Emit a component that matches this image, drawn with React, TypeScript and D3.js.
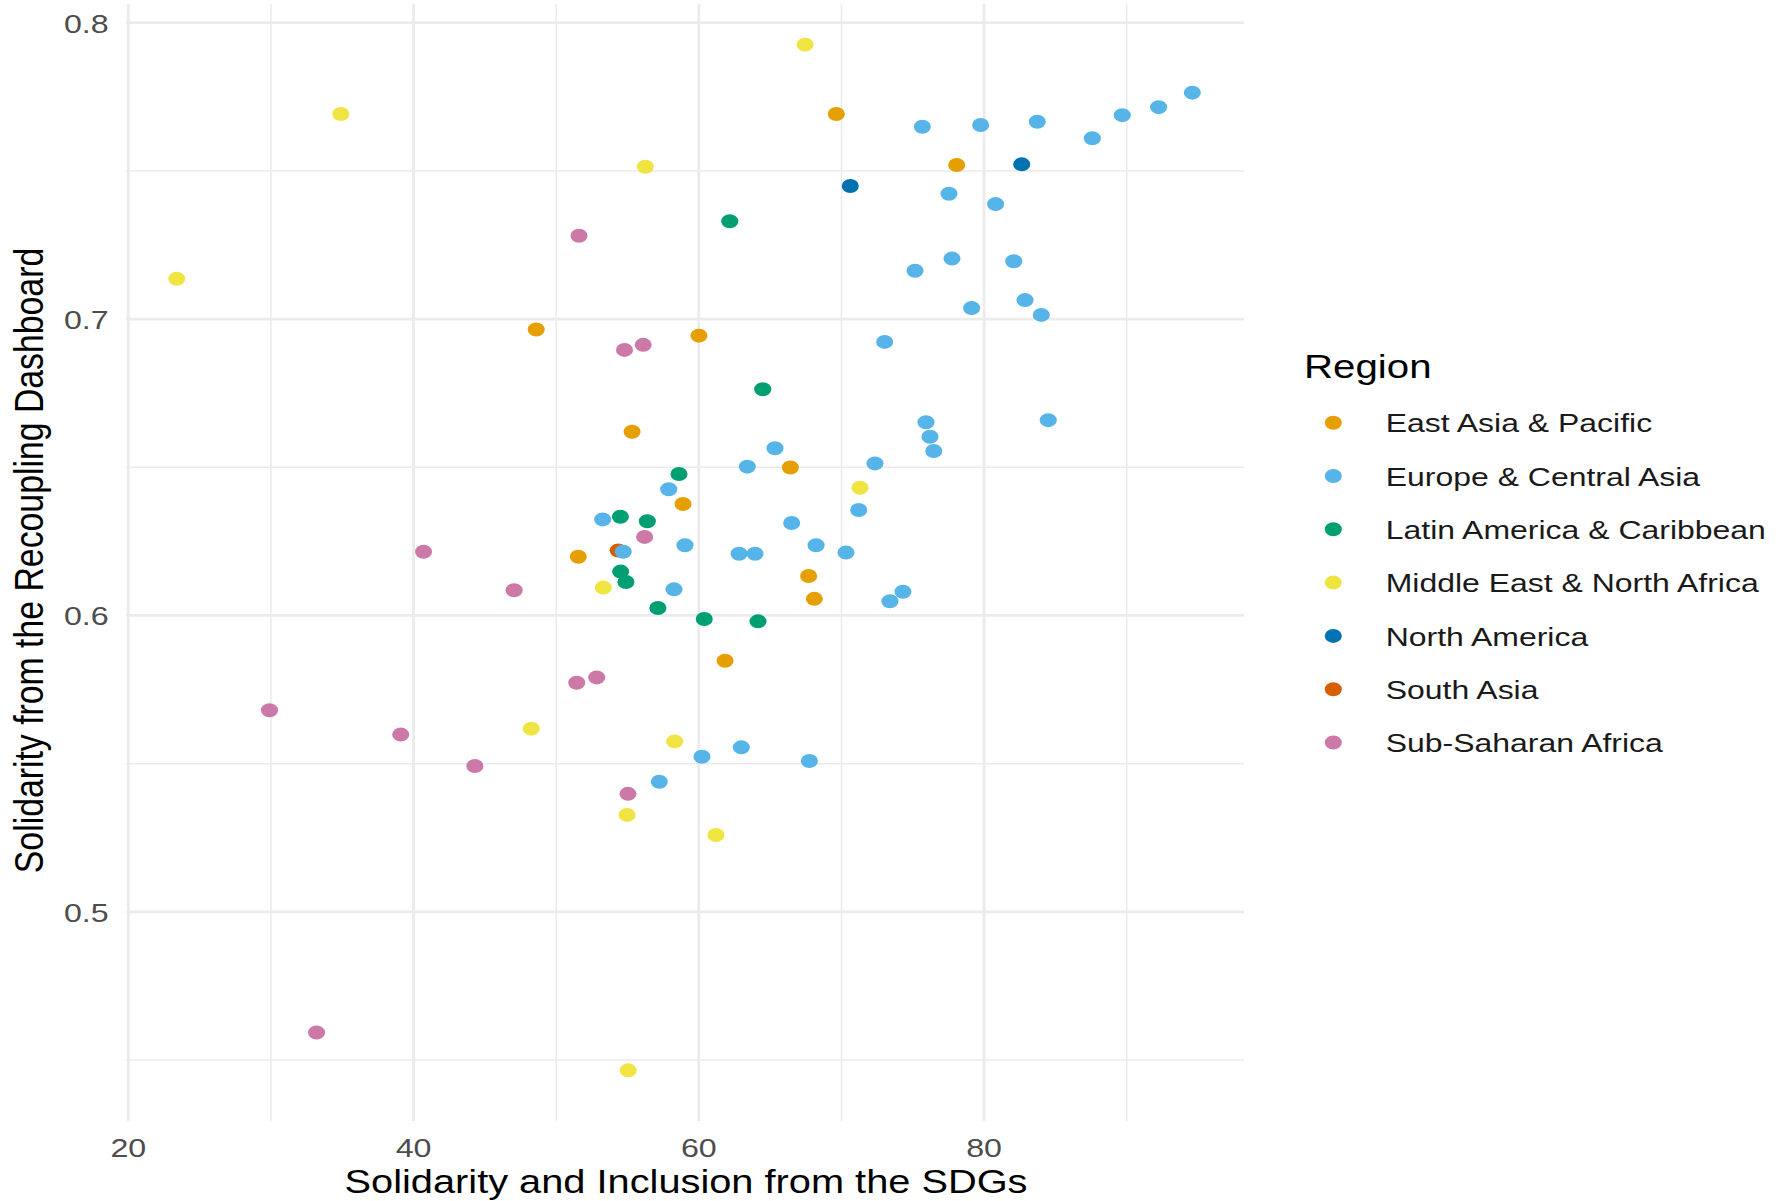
import React from "react";
import * as d3 from "d3";

// ---- Data ----
const regions = [
  "East Asia & Pacific",
  "Europe & Central Asia",
  "Latin America & Caribbean",
  "Middle East & North Africa",
  "North America",
  "South Asia",
  "Sub-Saharan Africa",
];
const regionColors = ["#E69F00", "#56B4E9", "#009E73", "#F0E442", "#0072B2", "#D55E00", "#CC79A7"];

const eastAsiaPacific: [number, number][] = [
  [69.64, 0.7692], [78.08, 0.752], [48.6, 0.6965], [60.01, 0.6944], [55.32, 0.662],
  [66.42, 0.6499], [58.89, 0.6376], [51.55, 0.6198], [67.7, 0.6133], [68.1, 0.6056], [61.84, 0.5847],
];
const europeCentralAsia: [number, number][] = [
  [75.67, 0.7649], [79.76, 0.7655], [83.73, 0.7666], [87.59, 0.761], [89.69, 0.7688],
  [92.24, 0.7715], [94.6, 0.7764], [77.54, 0.7423], [80.81, 0.7388], [77.75, 0.7204],
  [82.08, 0.7195], [75.16, 0.7163], [79.13, 0.7037], [82.87, 0.7064], [84.01, 0.7014],
  [73.03, 0.6923], [84.5, 0.6659], [75.93, 0.6652], [76.21, 0.6603], [76.47, 0.6555],
  [65.34, 0.6564], [63.4, 0.6502], [72.35, 0.6513], [57.89, 0.6426], [71.21, 0.6356],
  [53.26, 0.6324], [66.51, 0.6312], [59.03, 0.6237], [68.22, 0.6237], [54.7, 0.6215],
  [62.82, 0.6208], [63.94, 0.6208], [70.32, 0.6212], [58.26, 0.6088], [74.31, 0.608],
  [73.4, 0.6048], [60.22, 0.5523], [62.98, 0.5555], [67.75, 0.5509], [57.23, 0.5439],
];
const latinAmericaCaribbean: [number, number][] = [
  [62.17, 0.733], [64.48, 0.6763], [58.61, 0.6477], [54.5, 0.6333], [56.39, 0.6318],
  [54.52, 0.6148], [54.89, 0.6113], [57.13, 0.6025], [60.38, 0.5988], [64.15, 0.598],
];
const middleEastNorthAfrica: [number, number][] = [
  [67.45, 0.7926], [34.9, 0.7692], [23.4, 0.7136], [56.25, 0.7514], [71.3, 0.6431],
  [53.3, 0.6094], [48.25, 0.5618], [58.31, 0.5575], [54.97, 0.5327], [61.2, 0.5259], [55.05, 0.4465],
];
const northAmerica: [number, number][] = [[70.62, 0.7449], [82.64, 0.7522]];
const southAsia: [number, number][] = [[54.35, 0.6219]];
const subSaharanAfrica: [number, number][] = [
  [51.6, 0.7281], [54.79, 0.6896], [56.1, 0.6913], [56.2, 0.6265], [40.7, 0.6215],
  [47.05, 0.6085], [51.44, 0.5773], [52.84, 0.5791], [29.9, 0.568], [39.1, 0.5598],
  [44.3, 0.5492], [55.03, 0.5398], [33.2, 0.4593],
];

const seriesByRegion = [
  eastAsiaPacific, europeCentralAsia, latinAmericaCaribbean, middleEastNorthAfrica,
  northAmerica, southAsia, subSaharanAfrica,
];
// draw order (South Asia lies under a Europe point)
const drawOrder = [5, 0, 2, 3, 4, 6, 1];

const xMajorTicks = [20, 40, 60, 80];
const xMinorTicks = [30, 50, 70, 90];
const yMajorTicks = [0.5, 0.6, 0.7, 0.8];
const yMinorTicks = [0.45, 0.55, 0.65, 0.75];

const xTitle = "Solidarity and Inclusion from the SDGs";
const yTitle = "Solidarity from the Recoupling Dashboard";
const legendTitle = "Region";

// ---- Layout ----
const W = 1781;
const H = 1201;
const SX = 1.22; // horizontal stretch of the reference
const FONT = "'Liberation Sans', Arial, Helvetica, sans-serif";
const panelLeft = 126;
const panelRight = 1244;
const panelTop = 4;
const panelBottom = 1121;

const x = d3.scaleLinear().domain([20, 90]).range([128.3, 1126.7]);
const y = d3.scaleLinear().domain([0.45, 0.8]).range([1060, 22.7]);

const fmtY = d3.format(".1f");

function StretchText(props: {
  x: number; y: number; anchor?: string; size: number; fill: string; children: React.ReactNode; rotate?: number;
}) {
  const rot = props.rotate ? ` rotate(${props.rotate})` : "";
  return (
    <text
      transform={`translate(${props.x},${props.y}) scale(${SX},1)${rot}`}
      textAnchor={props.anchor || "start"}
      fontSize={props.size}
      fill={props.fill}
      fontFamily={FONT}
    >
      {props.children}
    </text>
  );
}

export default function App() {
  const rPt = 7;
  const legendX = 1333.3;
  const legendY0 = 422.7;
  const legendStep = 53.3;
  return (
    <svg
      width={W}
      height={H}
      viewBox={`0 0 ${W} ${H}`}
      style={{ position: "absolute", left: 0, top: 0, background: "#fff" }}
    >
      <rect x={0} y={0} width={W} height={H} fill="#fff" />
      {/* minor grid */}
      {xMinorTicks.map((t) => (
        <line key={"xm" + t} x1={x(t)} x2={x(t)} y1={panelTop} y2={panelBottom} stroke="#EBEBEB" strokeWidth={1.5} />
      ))}
      {yMinorTicks.map((t) => (
        <line key={"ym" + t} x1={panelLeft} x2={panelRight} y1={y(t)} y2={y(t)} stroke="#EBEBEB" strokeWidth={1.5} />
      ))}
      {/* major grid */}
      {xMajorTicks.map((t) => (
        <line key={"xM" + t} x1={x(t)} x2={x(t)} y1={panelTop} y2={panelBottom} stroke="#EBEBEB" strokeWidth={2.8} />
      ))}
      {yMajorTicks.map((t) => (
        <line key={"yM" + t} x1={panelLeft} x2={panelRight} y1={y(t)} y2={y(t)} stroke="#EBEBEB" strokeWidth={2.8} />
      ))}

      {/* points */}
      {drawOrder.map((ri) => (
        <g key={regions[ri]}>
          {seriesByRegion[ri].map((d, i) => (
            <ellipse key={i} cx={x(d[0])} cy={y(d[1])} rx={rPt * SX} ry={rPt} fill={regionColors[ri]} />
          ))}
        </g>
      ))}

      {/* x tick labels */}
      {xMajorTicks.map((t) => (
        <StretchText key={"xl" + t} x={x(t)} y={1157} anchor="middle" size={26.4} fill="#4D4D4D">
          {String(t)}
        </StretchText>
      ))}
      {/* y tick labels */}
      {yMajorTicks.map((t) => (
        <StretchText key={"yl" + t} x={108.7} y={y(t) + 10} anchor="end" size={26.4} fill="#4D4D4D">
          {fmtY(t)}
        </StretchText>
      ))}

      {/* axis titles */}
      <StretchText x={(panelLeft + panelRight) / 2 + 1} y={1193} anchor="middle" size={32.6} fill="#000">
        {xTitle}
      </StretchText>
      <StretchText x={43.3} y={(panelTop + panelBottom) / 2 - 2} anchor="middle" size={33.8} fill="#000" rotate={-90}>
        {yTitle}
      </StretchText>

      {/* legend */}
      <StretchText x={1304} y={377.7} size={33} fill="#000">
        {legendTitle}
      </StretchText>
      {regions.map((r, i) => (
        <g key={"lg" + r}>
          <ellipse cx={legendX} cy={legendY0 + i * legendStep} rx={rPt * SX} ry={rPt} fill={regionColors[i]} />
          <StretchText x={1385.7} y={legendY0 + i * legendStep + 9.6} size={26.2} fill="#1A1A1A">
            {r}
          </StretchText>
        </g>
      ))}
    </svg>
  );
}
